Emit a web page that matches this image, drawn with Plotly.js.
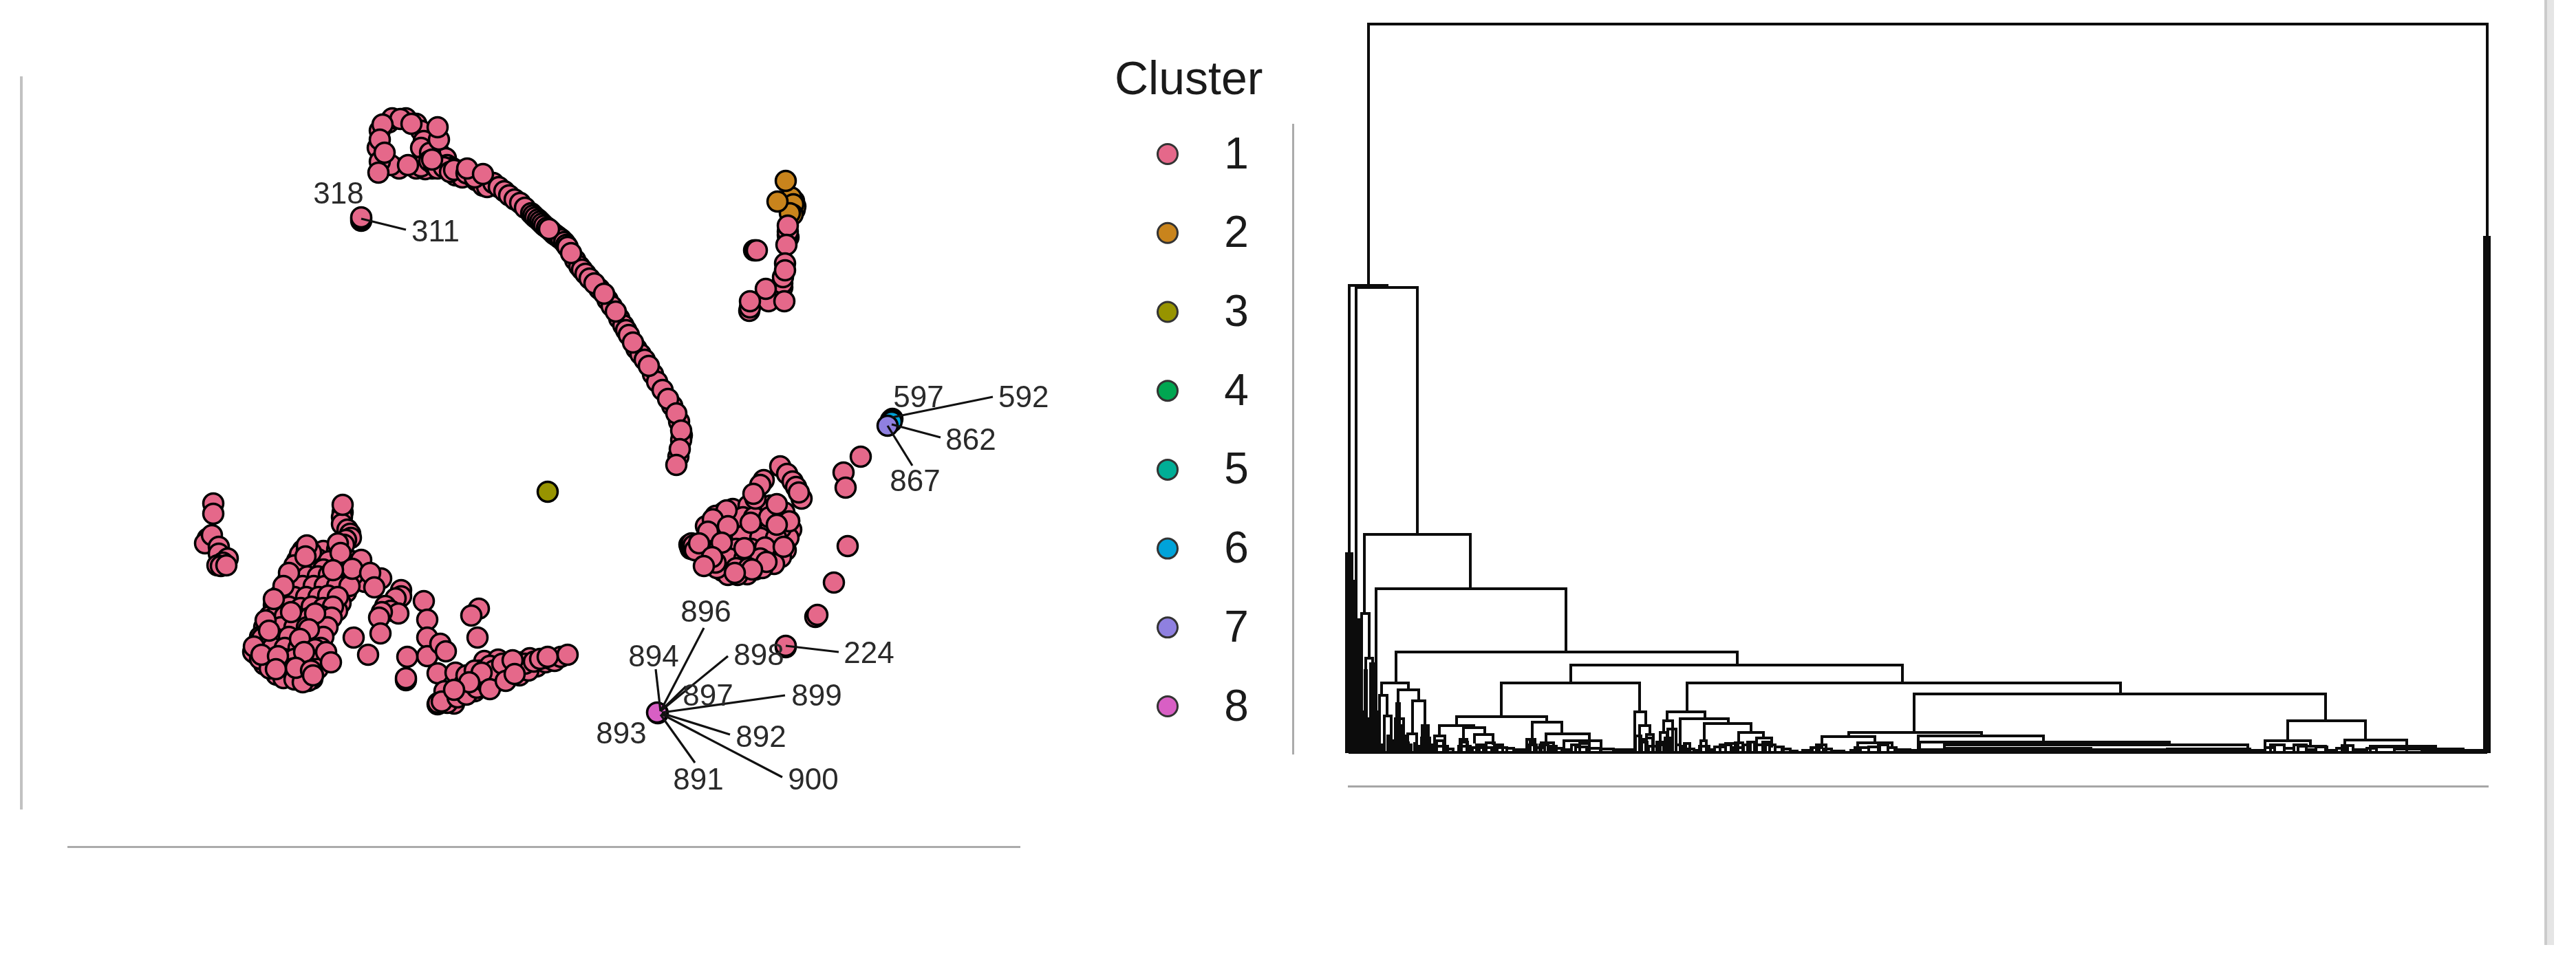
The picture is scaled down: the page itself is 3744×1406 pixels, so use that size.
<!DOCTYPE html>
<html><head><meta charset="utf-8">
<script src="https://cdn.plot.ly/plotly-3.0.1.min.js"></script>
<style>html,body{margin:0;padding:0;background:#fff}#g{width:3744px;height:1406px;filter:blur(0.7px)}</style>
</head><body><div id="g"></div>
<script>
var clusterIds=['1','2','3','4','5','6','7','8'];
var clusterColors=['#E5688A','#C9841C','#979400','#00A651','#00AE96','#00A3D9','#8F80E0','#D85FC4'];

// embedding positions, per region
var cluster2Points=[[1155,305],[1156,300],[1154,292],[1150,287],[1153,297],[1152,312],[1148,310],[1130,293],[1142,263]];
var loopBack=[[565,178],[590,172],[605,180],[612,190],[616,205],[618,220],[615,235],[605,245],[620,240],[628,245],[580,245],[568,240],[552,190],[549,215],[552,235],[638,222],[640,235],[648,230],[650,240],[657,244],[668,248],[662,255],[672,258],[685,255],[692,262],[702,270],[708,272],[612,215],[625,222],[618,246],[612,242],[624,234],[631,240],[636,245],[645,243],[654,250],[660,247],[678,252],[690,258]];
var loopFront=[[570,172],[582,173],[598,180],[556,181],[552,203],[559,222],[628,232],[638,203],[636,185],[593,240],[550,251]];
var chainBack=[[717,266],[725,272],[733,278],[740,284],[748,290],[756,295],[763,302],[772,310],[775,313],[778,316],[782,319],[785,322],[788,325],[791,328],[795,331],[801,336],[805,340],[808,342],[812,345],[816,348],[820,352],[823,356],[825,359],[836,378],[842,387],[846,392],[851,398],[857,405],[871,420],[883,436],[889,445],[900,463],[906,473],[910,480],[914,487],[925,507],[931,515],[937,523],[949,544],[955,555],[963,567],[977,590],[987,613],[991,633],[990,640],[986,664]];
var chainFront=[[679,245],[702,253],[798,333],[830,368],[864,412],[878,427],[895,453],[920,498],[943,532],[971,580],[983,601],[990,626],[988,653],[983,676]];
var isolatedPair=[[525,321],[525,318],[525,316]];
var cluster1Upper=[[1146,345],[1145,342],[1145,337],[1145,328],[1143,356],[1137,418],[1137,412],[1138,403],[1141,383],[1141,393],[1089,452],[1090,447],[1117,438],[1113,420],[1090,438],[1140,438],[1096,364],[1098,364],[1100,364]];
var leftColumn=[[310,732],[310,747],[302,783],[298,790],[308,778],[318,795],[318,805],[331,812],[324,818],[316,822],[321,823],[329,822]];
var bodyBack=[[440,800],[449,797],[470,801],[490,799],[432,815],[445,817],[462,813],[478,816],[498,814],[512,816],[425,832],[440,829],[455,831],[470,828],[490,833],[505,830],[520,828],[418,845],[432,847],[448,843],[465,846],[480,844],[497,847],[515,843],[530,846],[412,861],[425,858],[440,862],[457,859],[470,861],[488,858],[503,861],[405,876],[420,873],[433,877],[452,874],[466,876],[483,873],[495,877],[398,891],[412,888],[428,892],[445,893],[462,889],[478,891],[490,888],[390,906],[405,903],[422,907],[440,904],[458,906],[472,903],[384,921],[398,918],[416,922],[435,919],[452,921],[465,918],[376,936],[392,933],[410,937],[428,934],[446,936],[462,933],[372,951],[388,948],[405,952],[422,949],[440,951],[456,948],[472,952],[384,966],[400,963],[418,967],[436,964],[452,966],[470,963],[402,981],[420,978],[440,982],[456,979],[445,985],[454,987],
[436,806],[428,822],[420,838],[414,850],[406,866],[398,880],[392,896],[384,912],[378,926],[372,938],[368,948],[447,838],[462,838],[478,836],[497,838],[513,836],[425,852],[440,852],[456,852],[472,852],[490,852],[508,852],[413,868],[428,868],[445,868],[463,868],[477,866],[491,868],[405,884],[420,882],[437,884],[453,882],[470,884],[484,882],[398,898],[414,896],[432,898],[450,898],[468,896],[482,898],[390,913],[408,912],[428,912],[446,912],[462,912],[476,912],[381,928],[400,928],[420,926],[442,928],[458,926],[470,926],[380,942],[396,942],[414,942],[434,942],[452,942],[466,942],[378,958],[394,958],[412,958],[428,958],[446,958],[462,958],[474,958],[392,972],[408,972],[426,972],[444,972],[462,972],[412,986],[428,988],[448,990],[440,992]];
var bodyTower=[[498,745],[497,752],[497,762],[505,770],[509,776],[510,782],[503,785],[500,792],[491,790],[498,734],[446,800],[452,803]];
var bodyFront=[[446,793],[444,809],[495,804],[525,814],[512,827],[484,829],[420,833],[412,852],[554,841],[538,833],[544,854],[398,871],[423,890],[458,892],[386,902],[449,915],[391,917],[369,940],[380,952],[436,929],[458,944],[442,948],[404,954],[474,948],[481,963],[430,971],[452,975],[455,982],[401,973]];
var strands=[[583,858],[583,867],[575,870],[560,881],[568,888],[579,892],[555,890],[551,898],[553,921],[514,927],[535,952],[616,874],[621,901],[621,927],[621,954],[640,936],[648,947],[592,955],[590,989],[590,986],[696,885],[685,895],[694,927]];
var strip=[[636,1024],[648,1016],[655,1012],[668,1006],[680,1000],[690,995],[700,989],[712,984],[722,978],[733,973],[745,968],[757,963],[770,957],[780,969],[793,963],[800,958],[806,961],[815,955],[825,952],[636,979],[662,978],[704,961],[697,975],[724,959],[742,971],[755,982],[768,975],[736,982],[704,998],[723,990],[675,994],[646,1005],[690,1005],[637,1022],[660,1023],
[650,1022],[642,1020],[665,1014],[678,1010],[693,1000],[707,993],[718,984],[728,978],[740,975],[752,970],[763,965],[776,962],[785,958],[796,955],[678,982],[690,975],[712,968],[718,975],[730,965],[745,960],[700,978],[682,992],[660,1003],[712,1002],[735,990],[748,980]];
var blobBack=[[1052,745],[1075,748],[1100,744],[1125,746],[1036,762],[1058,758],[1085,761],[1110,759],[1130,762],[1147,757],[1030,775],[1050,778],[1070,774],[1095,777],[1118,773],[1138,776],[1002,792],[1003,795],[1004,798],[1005,790],[1006,796],[1016,791],[1035,788],[1055,792],[1080,789],[1100,791],[1122,788],[1140,790],[1020,805],[1040,807],[1062,803],[1085,806],[1105,803],[1128,806],[1030,818],[1050,816],[1072,819],[1095,817],[1116,815],[1050,830],[1060,832],[1065,829],[1075,833],[1080,830],[1098,828],
[1040,750],[1065,740],[1088,735],[1108,735],[1120,735],[1140,745],[1150,770],[1146,782],[1142,800],[1135,810],[1125,820],[1108,826],[1086,835],[1072,836],[1058,836],[1042,826],[1030,812],[1015,800],[1008,793],[1010,800],[1026,765],[1045,768],[1064,768],[1080,752],[1096,752],[1118,752],[1135,768],[1060,780],[1078,780],[1105,782],[1128,782],[1045,798],[1070,798],[1092,798],[1112,796],[1060,812],[1082,812],[1105,812],[1040,818],[1070,826],[1088,826]];
var blobFront=[[1134,678],[1144,689],[1152,700],[1157,708],[1165,725],[1161,716],[1110,698],[1105,705],[1098,725],[1095,718],[1129,733],[1056,742],[1036,755],[1091,760],[1147,758],[1129,763],[1058,765],[1029,773],[1016,790],[1049,789],[1082,797],[1139,795],[1035,810],[1023,823],[1114,817],[1093,828],[1068,833]];
var tailPoints=[[1226,687],[1229,709],[1251,664],[1232,794],[1212,847],[1185,897],[1188,894],[1142,941],[1142,939]];
var cluster3Points=[[796,715]];
var cluster6Points=[[1297,609],[1295,611],[1296,613]];
var cluster7Points=[[1290,619]];
var cluster8Points=[[956,1037],[955,1036]];

// repel labels and their leader segments
var labelText=['318','311','597','592','862','867','224','896','894','898','897','899','892','893','891','900'];
var labelX=[492,633,1335,1451,1411,1330,1263,1026,950,1103,1029,1187,1106,903,1015,1182];
var labelY=[285,340,581,581,643,703,953,893,958,956,1015,1015,1075,1070,1137,1137];
var labelAnchor=['middle center','middle center','middle center','middle right','middle center','middle center','middle center','middle center','middle center','middle center','middle center','middle center','middle center','middle center','middle center','middle center'];
var leaderFrom=[[525,318],[1296,607],[1296,617],[1290,619],[1142,939],[960,1034],[960,1034],[960,1034],[960,1034],[962,1036],[962,1037],[961,1038],[960,1039]];
var leaderTo=[[590,334],[1443,577],[1367,636],[1326,677],[1219,948],[1023,913],[953,973],[1058,954],[997,998],[1141,1011],[1061,1068],[1137,1130],[1010,1109]];

// dendrogram merges: left x, right x, height, left child height, right child height
var treeUpper=[
[1989,3615,1060,680,0],[1961,2016,680,0,677],[1971,2060,677,0,318],[1983,2137,318,203,239],
[1979,1990,203,0,138],[1985,1995,138,0,0],[2000,2276,239,0,147],[2029,2525,147,102,128],
[2008,2047,102,84,92],[2005,2016,84,0,54],[2012,2022,54,0,0],[2032,2062,92,72,76],
[2053,2071,76,28,40],[2046,2059,28,0,0],[2067,2076,40,0,0],
[2283,2765,128,102,102],[2182,2383,102,53,60],[2117,2248,53,40,45],[2092,2142,40,25,37],
[2085,2100,25,0,0],[2127,2158,37,20,27],[2122,2132,20,0,0],[2143,2170,27,14,12],
[2227,2270,45,20,28],[2219,2231,20,0,0],[2247,2310,28,15,18],[2240,2258,15,0,0],[2273,2327,18,0,8],
[2376,2392,60,0,40],[2383,2398,40,0,27],[2393,2403,27,0,0],
[2452,3082,102,60,86],[2423,2478,60,47,50],[2418,2431,47,30,0],[2413,2423,30,0,0],
[2442,2512,50,0,43],[2477,2545,43,18,30],[2472,2480,18,0,0],[2527,2563,30,15,22],[2522,2533,15,0,0],
[2553,2575,22,0,8],[2782,3380,86,30,47],[2687,2880,30,24,25],[2648,2725,24,6,15],
[2700,2750,15,3,6],[2788,2970,25,3,16],[2790,3153,16,3,12],[2826,3267,12,7,3],[2830,3039,7,3,3],
[3325,3438,47,18,19],[3292,3358,18,6,10],[3340,3380,10,3,3],[3408,3498,19,3,10],[3445,3540,10,3,5],[3498,3580,6,3,3]
];
var treeBlocks=[
[1957,1959,290,0,0],[1960,1962,290,0,0],[1963,1965,290,0,0],[1966,1968,250,0,0],
[1969,1971,194,0,0],[1972,1974,194,0,0],[1975,1977,194,0,0],[1978,1980,60,0,0],
[1981,1983,50,0,0],[1984,1986,120,0,0],[1987,1989,50,0,0],[1990,1992,50,0,0],[1992,1994,130,0,0],[1996,1998,130,0,0],
[2000,2002,60,0,0],[2003,2005,25,0,0],[2009,2011,12,0,0],[2017,2019,25,0,0],[2024,2026,18,0,0],
[2028,2040,50,0,0],[2030,2034,72,0,0],[2031,2033,60,0,0],[2035,2037,40,0,0],[2038,2042,25,0,0],
[2044,2047,15,0,0],[2049,2051,12,0,0],[2056,2058,14,0,0],[2062,2064,10,0,0],[2066,2078,22,0,0],[2069,2075,34,0,0],[2071,2073,40,0,0],[2079,2082,12,0,0],
[3611,3616,750,0,0],[3613,3618,750,0,0],[3580,3612,4,0,0],[3540,3575,4,0,0]
];
var treeHills=[
[1960,3615,1],[2082,2104,10],[2088,2098,18],[2104,2112,6],[2120,2137,10],[2124,2133,16],[2140,2150,8],[2146,2156,12],[2150,2168,8],[2160,2172,15],[2172,2184,12],[2176,2190,8],[2190,2200,7],[2200,2216,5],
[2220,2233,12],[2224,2230,16],[2233,2245,8],[2238,2250,12],[2250,2262,10],[2254,2270,7],[2272,2284,5],[2284,2296,12],[2290,2306,9],[2296,2310,14],[2310,2326,7],[2327,2345,6],[2345,2373,5],
[2377,2385,25],[2385,2392,20],[2386,2394,16],[2393,2402,22],[2396,2408,10],[2408,2420,16],[2411,2418,12],[2420,2428,22],[2424,2436,35],[2436,2442,12],[2444,2450,10],[2448,2456,14],[2452,2462,6],[2462,2470,4],
[2470,2484,10],[2484,2492,5],[2492,2508,9],[2500,2516,12],[2508,2526,14],[2520,2534,8],[2534,2544,12],[2540,2552,16],[2550,2566,12],[2562,2572,16],[2566,2580,12],[2580,2592,9],[2590,2602,6],[2602,2612,3],
[2620,2634,4],[2632,2644,8],[2640,2654,12],[2650,2662,6],[2664,2680,3],[2690,2704,4],[2696,2716,8],[2716,2732,9],[2730,2744,12],[2744,2756,8],[2754,2776,5],[2770,2786,4],
[2792,3030,3],[2794,2900,5],[2900,3153,5],[3040,3270,3],[3150,3270,6],[3270,3292,4],[3292,3306,8],[3300,3320,12],[3320,3334,7],[3334,3352,12],[3352,3366,5],[3366,3382,9],[3382,3396,4],
[3396,3412,7],[3404,3420,11],[3420,3436,5],[3440,3454,7],[3454,3480,9],[3480,3498,6],[3498,3520,7],[3520,3545,5],[3545,3580,3],[3580,3610,2]
];

// legend keys on their own cluster axis
var legendKeyX=[0,0,0,0,0,0,0,0];
var legendLabelX=[1,1,1,1,1,1,1,1];
var legendKeyY=[1,2,3,4,5,6,7,8];
var legendLabelY=[1.04,2.04,3.04,4.04,5.04,6.04,7.04,8.04];

var W=3744,H=1406;
function fx(p){return p/W}
function fy(p){return 1-p/H}
function xs(a){return a.map(function(p){return p[0]})}
function ys(a){return a.map(function(p){return p[1]})}
function scatterTrace(points,colorIndex,name){
  return {type:'scatter',mode:'markers',x:xs(points),y:ys(points),xaxis:'x',yaxis:'y',cliponaxis:false,name:name,hoverinfo:'skip',
    marker:{size:29,color:clusterColors[colorIndex],line:{color:'#000',width:3.5}}};
}
var order1=[].concat(loopBack,loopFront,chainBack,chainFront,isolatedPair,cluster1Upper,leftColumn,bodyBack,bodyTower,bodyFront,strands,strip,blobBack,blobFront,tailPoints);

var lx=[],ly=[];
leaderFrom.forEach(function(f,i){lx.push(f[0],leaderTo[i][0],null);ly.push(f[1],leaderTo[i][1],null)});

var tx=[],ty=[];
treeUpper.concat(treeBlocks).forEach(function(m){tx.push(m[0],m[0],m[1],m[1],null);ty.push(m[3],m[2],m[2],m[4],null)});
treeHills.forEach(function(m){tx.push(m[0],m[0],m[1],m[1],null);ty.push(0,m[2],m[2],0,null)});

var traces=[
 scatterTrace(cluster2Points,1,'2'),
 scatterTrace(order1,0,'1'),
 scatterTrace(cluster3Points,2,'3'),
 scatterTrace(cluster6Points,5,'6'),
 scatterTrace(cluster7Points,6,'7'),
 scatterTrace(cluster8Points,7,'8'),
 {type:'scatter',mode:'lines',x:lx,y:ly,xaxis:'x',yaxis:'y',hoverinfo:'skip',line:{color:'#111',width:3.2}},
 {type:'scatter',mode:'text',x:labelX,y:labelY,text:labelText,xaxis:'x',yaxis:'y',cliponaxis:false,hoverinfo:'skip',textposition:labelAnchor,textfont:{family:'Liberation Sans',size:44,color:'#2a2a2a'}},
 {type:'scatter',mode:'lines',x:tx,y:ty,xaxis:'x2',yaxis:'y2',hoverinfo:'skip',line:{color:'#0c0c0c',width:4}},
 {type:'scatter',mode:'markers',x:legendKeyX,y:legendKeyY,xaxis:'x3',yaxis:'y3',cliponaxis:false,hoverinfo:'skip',marker:{size:29,color:clusterColors,line:{color:'#333',width:3}}},
 {type:'scatter',mode:'text',x:legendLabelX,y:legendLabelY,text:clusterIds,xaxis:'x3',yaxis:'y3',cliponaxis:false,hoverinfo:'skip',textposition:'middle center',textfont:{family:'Liberation Sans',size:64,color:'#1a1a1a'}},
 {type:'scatter',mode:'markers',x:[2000],y:[0],xaxis:'x4',yaxis:'y2',hoverinfo:'skip',marker:{size:1,opacity:0}}
];
var hidden={showgrid:false,zeroline:false,showticklabels:false,ticks:''};
var layout={
 width:W,height:H,autosize:false,margin:{l:0,r:0,t:0,b:0},showlegend:false,paper_bgcolor:'#fff',plot_bgcolor:'rgba(0,0,0,0)',
 xaxis:Object.assign({},hidden,{domain:[fx(98),fx(1483)],range:[98,1483],anchor:'free',position:fy(1231),showline:true,linecolor:'#ababab',linewidth:3}),
 yaxis:Object.assign({},hidden,{domain:[fy(1177),fy(111)],range:[1177,111],anchor:'free',position:fx(31),showline:true,linecolor:'#c2c2c2',linewidth:4}),
 xaxis2:Object.assign({},hidden,{domain:[fx(1950),fx(3625)],range:[1950,3625],showline:false,anchor:'y2'}),
 yaxis2:Object.assign({},hidden,{domain:[fy(1097),fy(25)],range:[-2,1070],showline:false,anchor:'x2'}),
 xaxis4:Object.assign({},hidden,{domain:[fx(1959),fx(3617)],range:[1959,3617],anchor:'free',position:fy(1143),showline:true,linecolor:'#a6a6a6',linewidth:3}),
 xaxis3:Object.assign({},hidden,{domain:[fx(1697),fx(1797)],range:[0,1],anchor:'free',position:0,showline:false}),
 yaxis3:Object.assign({},hidden,{domain:[fy(1097),fy(180)],range:[8.61,0.616],anchor:'free',position:fx(1879),showline:true,linecolor:'#ababab',linewidth:3}),
 annotations:[{xref:'paper',yref:'paper',x:fx(1727),y:fy(113),text:'Cluster',showarrow:false,xanchor:'center',yanchor:'middle',font:{family:'Liberation Sans',size:68,color:'#1a1a1a'}}],
 shapes:[
  {type:'rect',xref:'paper',yref:'paper',x0:fx(3698),x1:fx(3702),y0:fy(1374),y1:1,fillcolor:'#cbcbcb',line:{width:0}},
  {type:'rect',xref:'paper',yref:'paper',x0:fx(3702),x1:fx(3712),y0:fy(1374),y1:1,fillcolor:'#e5e5e5',line:{width:0}}
 ]
};
Plotly.newPlot('g',traces,layout,{displayModeBar:false,staticPlot:true});
</script></body></html>
